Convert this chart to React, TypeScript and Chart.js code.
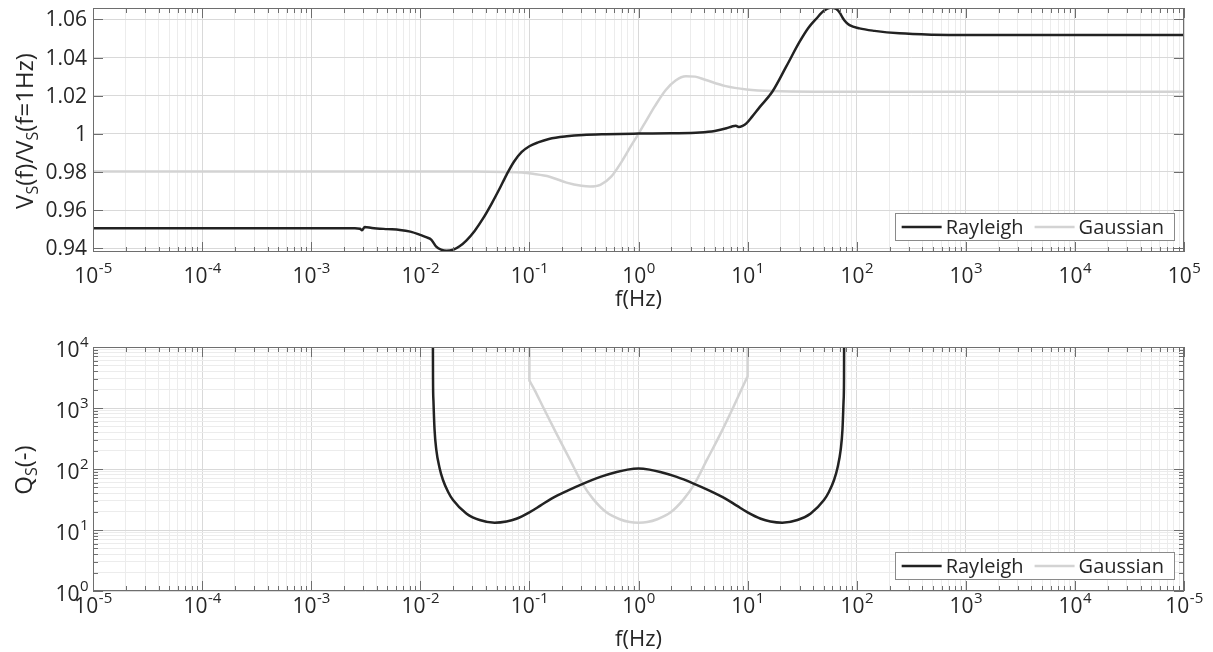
import React, { useEffect, useRef } from "react";
import { Chart, registerables } from "chart.js";

Chart.register(...registerables);

const FONT = '"Open Sans", "Liberation Sans", sans-serif';
const TEXT_COLOR = "#262626";
const AXIS_COLOR = "#6e6e6e";
const GRID_MAJOR = "#d9d9d9";
const GRID_MINOR = "#ececec";
const RAYLEIGH_COLOR = "#222222";
const GAUSSIAN_COLOR = "#d3d3d3";

const seriesNames = ["Rayleigh", "Gaussian"];

// ---------- Top panel: Vs(f)/Vs(f=1Hz) ----------
const rayleighVFreq = [
  1e-5, 1e-4, 1e-3, 0.0025, 0.0028, 0.00292, 0.0031, 0.0036, 0.005, 0.0065, 0.0081, 0.01,
  0.0113, 0.01265, 0.014, 0.0155, 0.0174, 0.02, 0.0229, 0.0264, 0.0316, 0.038, 0.0447,
  0.0525, 0.0617, 0.0724, 0.0851, 0.1, 0.12, 0.151, 0.22, 0.31, 0.5, 1, 2, 3.65, 5, 6.4,
  7.3, 7.8, 8.3, 9.0, 9.75, 11, 12.9, 16.9, 22.7, 30, 36, 42.8, 50, 58, 65, 70, 75, 80,
  86, 106, 146, 246, 500, 1e3, 1e5,
];
const rayleighV = [
  0.9505, 0.9505, 0.9505, 0.9504, 0.9502, 0.9494, 0.9511, 0.9506, 0.95, 0.9496, 0.9487, 0.947,
  0.9458, 0.9444, 0.9408, 0.9392, 0.9386, 0.9392, 0.941, 0.944, 0.9492, 0.956, 0.963,
  0.9705, 0.9785, 0.9855, 0.9905, 0.9935, 0.9955, 0.9973, 0.9987, 0.9994, 0.9998, 1.0001, 1.0003, 1.0007, 1.0015, 1.0029,
  1.004, 1.0042, 1.0036, 1.0042, 1.0055, 1.009, 1.014, 1.0222, 1.0355, 1.0483, 1.0555, 1.0605, 1.0645, 1.0662, 1.0655, 1.0635, 1.0605, 1.0585,
  1.057, 1.0553, 1.054, 1.0527, 1.052, 1.0518, 1.0518,
];
const gaussianVFreq = [
  1e-5, 0.03, 0.0615, 0.085, 0.108, 0.153, 0.219, 0.3, 0.36, 0.447, 0.562, 0.708, 0.851,
  1.0, 1.175, 1.413, 1.778, 2.188, 2.72, 3.31, 4.15, 6.3, 9.8, 17, 40, 1e5,
];
const gaussianV = [
  0.9802, 0.9802, 0.98, 0.9797, 0.979, 0.9775, 0.9744, 0.9727, 0.9723, 0.9732, 0.9775, 0.9858, 0.9935,
  1.0, 1.0068, 1.0145, 1.023, 1.028, 1.0302, 1.03, 1.0282, 1.025, 1.0233, 1.0224, 1.0221, 1.0221,
];

// ---------- Bottom panel: Qs ----------
const rayleighQFreq = [
  0.013, 0.01308, 0.0132, 0.0135, 0.014, 0.015, 0.01614, 0.018, 0.01995, 0.0264, 0.035, 0.048,
  0.0617, 0.076, 0.1, 0.126, 0.158, 0.224, 0.316, 0.447, 0.631, 0.794, 1.0,
  1.26, 1.585, 2.24, 3.16, 4.47, 6.31, 7.94, 10, 13.2, 16.2,
  20.8, 28.6, 37.9, 50.1, 55.6, 62, 66.7, 71.4, 74.1, 75.8, 76.5, 76.9,
];
const rayleighQ = [
  100000, 3000, 1300, 450, 210, 105, 66, 42, 31, 18.7, 14.6, 13.2,
  13.8, 15.3, 19.5, 25.1, 32.4, 44.2, 58.2, 74.1, 89.1, 97.7, 101.9,
  97.7, 89.1, 74.1, 58.2, 44.2, 32.4, 25.1, 19.5, 15.3, 13.8,
  13.2, 14.6, 18.7, 31, 42, 66, 105, 210, 450, 1300, 3000, 100000,
];
const gaussianQFreq = [
  0.1, 0.1, 0.1012, 0.112, 0.133, 0.177, 0.234, 0.306, 0.383, 0.508, 0.673, 0.832, 1.0,
  1.202, 1.486, 1.97, 2.61, 3.27, 4.27, 5.65, 7.52, 8.93, 9.88, 10, 10,
];
const gaussianQ = [
  100000, 2850, 2720, 1950, 1050, 380, 145, 57.5, 32.4, 19.5, 15.0, 13.5, 13.2,
  13.5, 15.0, 19.5, 32.4, 57.5, 145, 380, 1100, 2150, 3150, 3300, 100000,
];

// ---------- Axes ----------
const xTickExponents = [-5, -4, -3, -2, -1, 0, 1, 2, 3, 4, 5];
const topXTickLabels = ["-5", "-4", "-3", "-2", "-1", "0", "1", "2", "3", "4", "5"];
const bottomXTickLabels = ["-5", "-4", "-3", "-2", "-1", "0", "1", "2", "3", "4", "-5"];
const topYTicks = [0.94, 0.96, 0.98, 1, 1.02, 1.04, 1.06];
const topYTickLabels = ["0.94", "0.96", "0.98", "1", "1.02", "1.04", "1.06"];
const bottomYTickExponents = [0, 1, 2, 3, 4];
const bottomYTickLabels = ["0", "1", "2", "3", "4"];
const xTitle = "f(Hz)";
const topYTitle: [string, boolean][] = [["V", false], ["S", true], ["(f)/V", false], ["S", true], ["(f=1Hz)", false]];
const bottomYTitle: [string, boolean][] = [["Q", false], ["S", true], ["(-)", false]];

const TICK_FONT = 21;
const SUP_FONT = 15;
const TITLE_FONT = 22;
const YTITLE_FONT = 24;
const SUB_FONT = 16;
const LEGEND_FONT = 20;

function logTicks(exps: number[]) {
  const out: { value: number; major: boolean }[] = [];
  for (let i = 0; i < exps.length; i++) {
    const base = Math.pow(10, exps[i]);
    out.push({ value: base, major: true });
    if (i < exps.length - 1) {
      for (let m = 2; m <= 9; m++) out.push({ value: m * base, major: false });
    }
  }
  return out;
}

function drawPow(ctx: CanvasRenderingContext2D, sup: string, x: number, y: number, align: "center" | "right") {
  ctx.font = `${TICK_FONT}px ${FONT}`;
  const wb = ctx.measureText("10").width;
  ctx.font = `${SUP_FONT}px ${FONT}`;
  const ws = ctx.measureText(sup).width;
  const w = wb + ws;
  const x0 = align === "center" ? x - w / 2 : x - w;
  ctx.textAlign = "left";
  ctx.textBaseline = "alphabetic";
  ctx.font = `${TICK_FONT}px ${FONT}`;
  ctx.fillText("10", x0, y);
  ctx.font = `${SUP_FONT}px ${FONT}`;
  ctx.fillText(sup, x0 + wb + 0.5, y - 10);
}

function drawRich(ctx: CanvasRenderingContext2D, parts: [string, boolean][], cx: number, cy: number) {
  let w = 0;
  const widths = parts.map(([t, sub]) => {
    ctx.font = `${sub ? SUB_FONT : YTITLE_FONT}px ${FONT}`;
    const m = ctx.measureText(t).width;
    w += m;
    return m;
  });
  ctx.save();
  ctx.translate(cx, cy);
  ctx.rotate(-Math.PI / 2);
  ctx.textAlign = "left";
  ctx.textBaseline = "alphabetic";
  let x = -w / 2;
  parts.forEach(([t, sub], i) => {
    ctx.font = `${sub ? SUB_FONT : YTITLE_FONT}px ${FONT}`;
    ctx.fillText(t, x, sub ? 5 : 0);
    x += widths[i];
  });
  ctx.restore();
}

const matlabAxes = {
  id: "matlabAxes",
  afterDraw(chart: any) {
    const o = chart.options.plugins.matlabAxes;
    const ctx: CanvasRenderingContext2D = chart.ctx;
    const a = chart.chartArea;
    const xs = chart.scales.x;
    const ys = chart.scales.y;
    ctx.save();
    // inner tick marks
    ctx.strokeStyle = AXIS_COLOR;
    ctx.lineWidth = 1;
    ctx.beginPath();
    xs.ticks.forEach((t: any) => {
      const px = Math.round(xs.getPixelForValue(t.value)) + 0.5;
      const len = t.major ? 10 : 5;
      ctx.moveTo(px, a.top);
      ctx.lineTo(px, a.top + len);
      ctx.moveTo(px, a.bottom);
      ctx.lineTo(px, a.bottom - len);
    });
    ys.ticks.forEach((t: any) => {
      const py = Math.round(ys.getPixelForValue(t.value)) + 0.5;
      const len = t.major ? 10 : 5;
      ctx.moveTo(a.left, py);
      ctx.lineTo(a.left + len, py);
      ctx.moveTo(a.right, py);
      ctx.lineTo(a.right - len, py);
    });
    ctx.stroke();
    ctx.strokeRect(a.left + 0.5, a.top + 0.5, a.right - a.left - 1, a.bottom - a.top - 1);

    ctx.fillStyle = TEXT_COLOR;
    // x tick labels
    o.xLabels.forEach((lab: string, i: number) => {
      const px = xs.getPixelForValue(Math.pow(10, xTickExponents[i]));
      drawPow(ctx, lab, px, a.bottom + o.xLabelOffset, "center");
    });
    // y tick labels
    if (o.yLog) {
      o.yLabels.forEach((lab: string, i: number) => {
        const py = ys.getPixelForValue(Math.pow(10, bottomYTickExponents[i]));
        drawPow(ctx, lab, a.left - 5, py + 10, "right");
      });
    } else {
      ctx.font = `${TICK_FONT}px ${FONT}`;
      ctx.textAlign = "right";
      ctx.textBaseline = "middle";
      o.yLabels.forEach((lab: string, i: number) => {
        const py = ys.getPixelForValue(topYTicks[i]);
        ctx.fillText(lab, a.left - 6, py + 1);
      });
    }
    // titles
    ctx.font = `${TITLE_FONT}px ${FONT}`;
    ctx.textAlign = "center";
    ctx.textBaseline = "middle";
    ctx.fillText(xTitle, (a.left + a.right) / 2, o.xTitleY);
    drawRich(ctx, o.yTitle, o.yTitleX, o.yTitleY);

    // legend
    const names = chart.data.datasets.map((d: any) => d.label);
    const colors = chart.data.datasets.map((d: any) => d.borderColor);
    ctx.font = `${LEGEND_FONT}px ${FONT}`;
    const tw = names.map((n: string) => ctx.measureText(n).width);
    const lineLen = 40;
    const boxRight = a.right - 10;
    const boxBottom = a.bottom - 12;
    const boxH = 27;
    const boxW = 7 + lineLen + 4 + tw[0] + 11 + lineLen + 4 + tw[1] + 10;
    const boxLeft = boxRight - boxW;
    const boxTop = boxBottom - boxH;
    ctx.fillStyle = "#ffffff";
    ctx.fillRect(boxLeft, boxTop, boxW, boxH);
    ctx.strokeStyle = "#8a8a8a";
    ctx.lineWidth = 1;
    ctx.strokeRect(Math.round(boxLeft) + 0.5, Math.round(boxTop) + 0.5, Math.round(boxW), boxH);
    const cy = boxTop + boxH / 2 + 0.5;
    let x = boxLeft + 7;
    ctx.textAlign = "left";
    ctx.textBaseline = "middle";
    names.forEach((n: string, i: number) => {
      ctx.strokeStyle = colors[i];
      ctx.lineWidth = 2.5;
      ctx.beginPath();
      ctx.moveTo(x, cy);
      ctx.lineTo(x + lineLen, cy);
      ctx.stroke();
      x += lineLen + 4;
      ctx.fillStyle = TEXT_COLOR;
      ctx.fillText(n, x, cy + 1);
      x += tw[i] + 11;
    });
    ctx.restore();
  },
};

function points(xs: number[], ys: number[]) {
  return xs.map((x, i) => ({ x, y: ys[i] }));
}

function lineDataset(label: string, color: string, data: { x: number; y: number }[]) {
  return {
    label,
    data,
    borderColor: color,
    backgroundColor: color,
    borderWidth: 2.5,
    pointRadius: 0,
    fill: false,
    cubicInterpolationMode: "monotone" as const,
  };
}

const gridColor = (c: any) => (c.tick && c.tick.major ? GRID_MAJOR : GRID_MINOR);

function topConfig(): any {
  return {
    type: "line",
    data: {
      datasets: [
        lineDataset(seriesNames[0], RAYLEIGH_COLOR, points(rayleighVFreq, rayleighV)),
        lineDataset(seriesNames[1], GAUSSIAN_COLOR, points(gaussianVFreq, gaussianV)),
      ],
    },
    options: {
      responsive: false,
      animation: false,
      events: [],
      layout: { padding: { left: 0, right: 29, top: 8, bottom: 0 } },
      scales: {
        x: {
          type: "logarithmic",
          min: 1e-5,
          max: 1e5,
          afterBuildTicks: (s: any) => { s.ticks = logTicks(xTickExponents); },
          afterFit: (s: any) => { s.height = 74; },
          ticks: { display: false, autoSkip: false },
          grid: { color: gridColor, drawTicks: false, lineWidth: 1 },
          border: { display: false },
        },
        y: {
          type: "linear",
          min: 0.938,
          max: 1.066,
          afterBuildTicks: (s: any) => { s.ticks = topYTicks.map((v) => ({ value: v, major: true })); },
          afterFit: (s: any) => { s.width = 93; },
          ticks: { display: false, autoSkip: false },
          grid: { color: GRID_MAJOR, drawTicks: false, lineWidth: 1 },
          border: { display: false },
        },
      },
      plugins: {
        legend: { display: false },
        tooltip: { enabled: false },
        matlabAxes: {
          xLabels: topXTickLabels,
          yLabels: topYTickLabels,
          yLog: false,
          xLabelOffset: 31,
          xTitleY: 300,
          yTitle: topYTitle,
          yTitleX: 33,
          yTitleY: 131,
        },
      },
    },
    plugins: [matlabAxes],
  };
}

function bottomConfig(): any {
  return {
    type: "line",
    data: {
      datasets: [
        lineDataset(seriesNames[0], RAYLEIGH_COLOR, points(rayleighQFreq, rayleighQ)),
        lineDataset(seriesNames[1], GAUSSIAN_COLOR, points(gaussianQFreq, gaussianQ)),
      ],
    },
    options: {
      responsive: false,
      animation: false,
      events: [],
      layout: { padding: { left: 0, right: 29, top: 21, bottom: 0 } },
      scales: {
        x: {
          type: "logarithmic",
          min: 1e-5,
          max: 1e5,
          afterBuildTicks: (s: any) => { s.ticks = logTicks(xTickExponents); },
          afterFit: (s: any) => { s.height = 61; },
          ticks: { display: false, autoSkip: false },
          grid: { color: gridColor, drawTicks: false, lineWidth: 1 },
          border: { display: false },
        },
        y: {
          type: "logarithmic",
          min: 1,
          max: 1e4,
          afterBuildTicks: (s: any) => { s.ticks = logTicks(bottomYTickExponents); },
          afterFit: (s: any) => { s.width = 93; },
          ticks: { display: false, autoSkip: false },
          grid: { color: gridColor, drawTicks: false, lineWidth: 1 },
          border: { display: false },
        },
      },
      plugins: {
        legend: { display: false },
        tooltip: { enabled: false },
        matlabAxes: {
          xLabels: bottomXTickLabels,
          yLabels: bottomYTickLabels,
          yLog: true,
          xLabelOffset: 22,
          xTitleY: 314,
          yTitle: bottomYTitle,
          yTitleX: 32,
          yTitleY: 144,
        },
      },
    },
    plugins: [matlabAxes],
  };
}

function Panel({ make }: { make: () => any }) {
  const ref = useRef<HTMLCanvasElement>(null);
  useEffect(() => {
    const chart = new Chart(ref.current as HTMLCanvasElement, make());
    return () => chart.destroy();
  }, [make]);
  return <canvas ref={ref} width={1213} height={326} style={{ display: "block", width: 1213, height: 326 }} />;
}

export default function App() {
  return (
    <div style={{ position: "absolute", left: 0, top: 0, width: 1213, height: 652, background: "#ffffff" }}>
      <Panel make={topConfig} />
      <Panel make={bottomConfig} />
    </div>
  );
}
